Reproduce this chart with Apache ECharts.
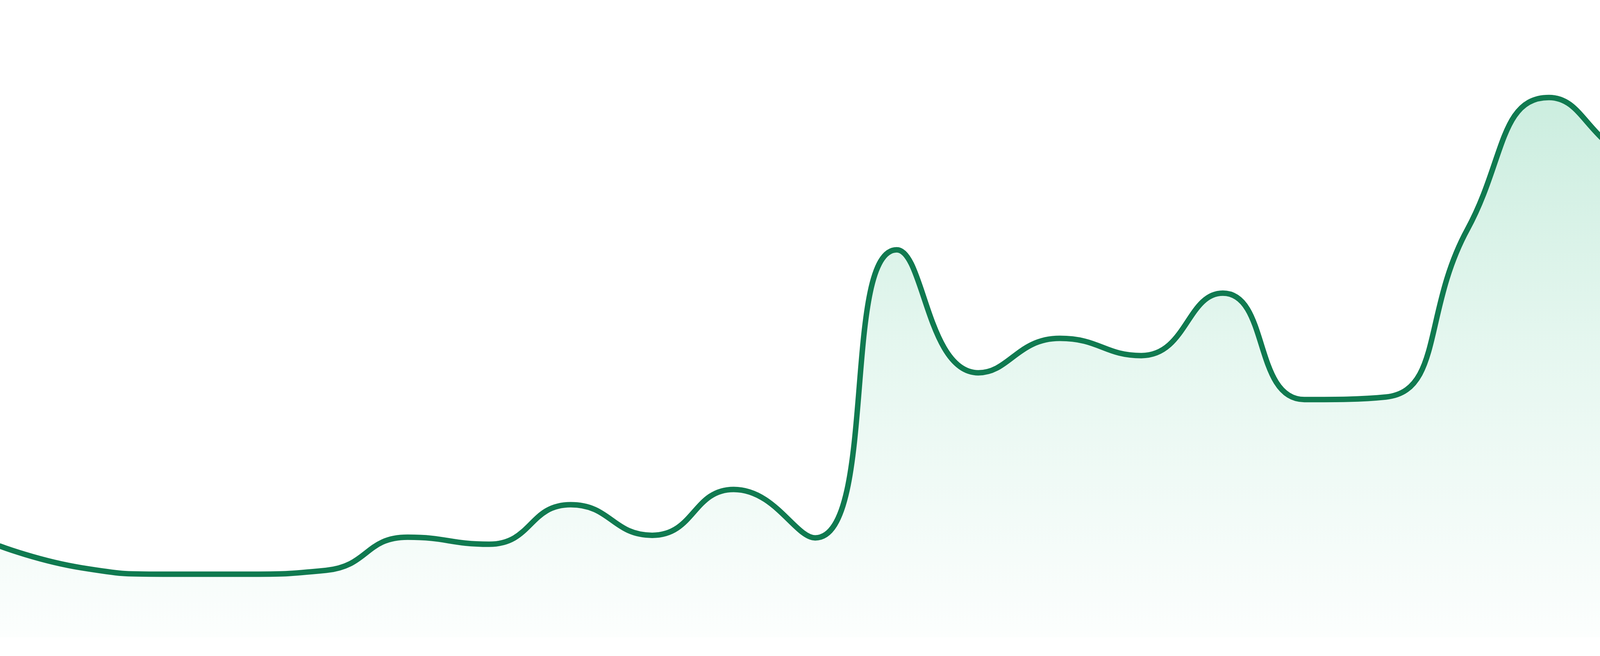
<!DOCTYPE html>
<html>
<head>
<meta charset="utf-8">
<title>trend</title>
<script src="https://cdn.jsdelivr.net/npm/echarts@6.0.0/dist/echarts.min.js"></script>
<style>
  html, body { margin: 0; padding: 0; background: #ffffff; }
  #chart { width: 4800px; height: 1680px; }
</style>
</head>
<body>
<div id="chart"></div>
<script>
// 横轴分类（图上没有显示标签）
const categories = ['1', '2', '3', '4', '5', '6', '7', '8', '9', '10', '11', '12',
  '13', '14', '15', '16', '17', '18', '19', '20', '21', '22', '23', '24']

// 折线数值
const values = [14.3, 10.9, 9.9, 9.9, 10.5, 15.7, 14.6, 20.8, 16.0, 23.2, 15.6, 60.8,
  41.5, 46.9, 44.2, 54.0, 37.3, 37.7, 64.0, 84.7, 75.1, 71.7, 68.3, 87.7]

// 纵轴范围
const yMin = 0
const yMax = 100

const chart = echarts.init(document.getElementById('chart'))

const option = {
  animation: false,
  grid: {
    left: 0,
    right: 0,
    top: 0,
    bottom: 48
  },
  xAxis: {
    type: 'category',
    boundaryGap: false,
    data: categories,
    show: false
  },
  yAxis: {
    type: 'value',
    min: yMin,
    max: yMax,
    show: false
  },
  series: [{
    type: 'line',
    data: values,
    smooth: true,
    showSymbol: false,
    lineStyle: {
      color: '#107a50',
      width: 14,
      cap: 'round',
      join: 'round'
    },
    itemStyle: {
      color: '#107a50'
    },
    areaStyle: {
      color: {
        type: 'linear',
        x: 0,
        y: 0,
        x2: 0,
        y2: 1,
        colorStops: [{
          offset: 0,
          color: 'rgb(178,228,207)'
        }, {
          offset: 0.5,
          color: 'rgb(219,243,233)'
        }, {
          offset: 1,
          color: 'rgb(250,253,252)'
        }],
        global: false
      }
    }
  }]
}

chart.setOption(option)
</script>
</body>
</html>
